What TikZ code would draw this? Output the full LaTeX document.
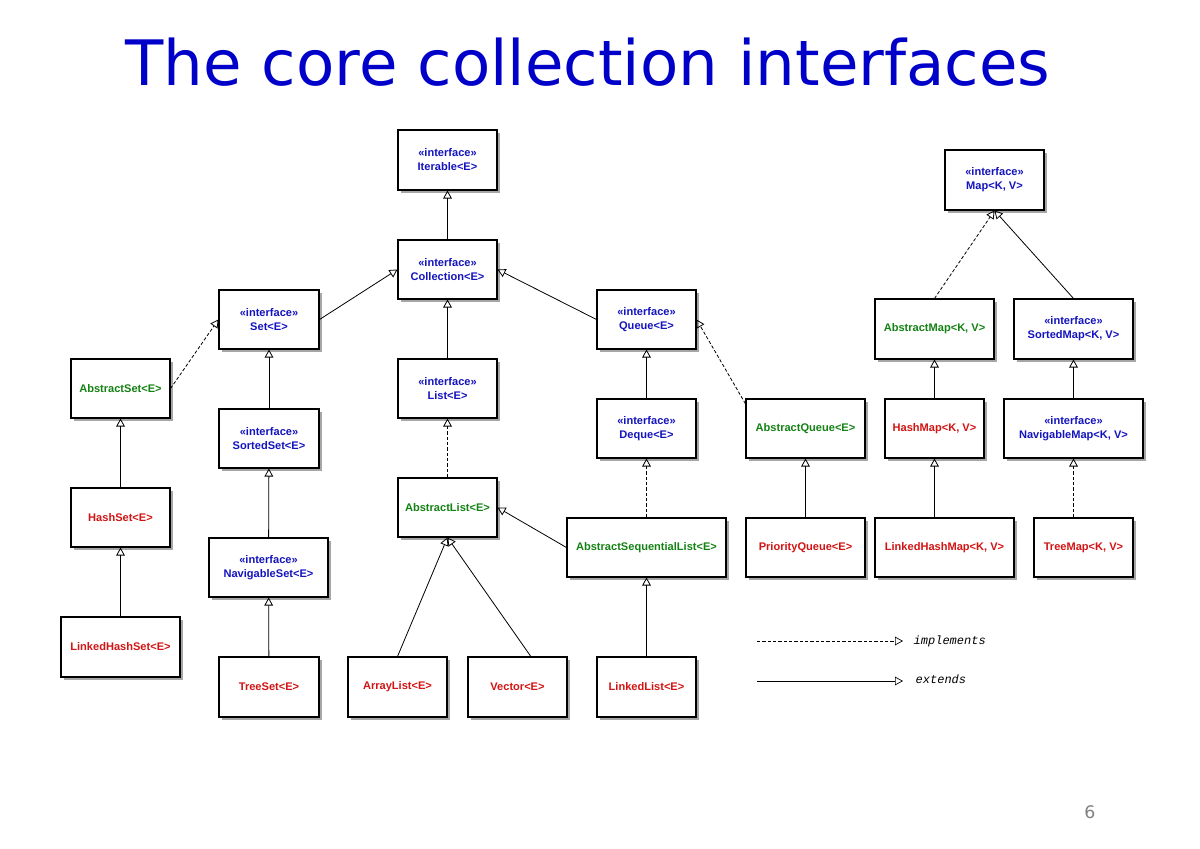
\documentclass[tikz,border=0pt]{standalone}
\usepackage{fontspec}
\setmainfont{Liberation Sans}
\newfontfamily\titlefont{DejaVu Sans}
\newfontfamily\legfont{Liberation Mono}
\usetikzlibrary{arrows.meta}
\definecolor{ib}{RGB}{20,20,190}
\definecolor{tb}{RGB}{0,0,200}
\definecolor{cg}{RGB}{20,130,20}
\definecolor{cr}{RGB}{210,20,20}
\tikzset{
  box/.style={draw,thick,fill=white,align=center,inner sep=1pt,font=\bfseries\fontsize{8.3}{10.5}\selectfont},
  ext/.style={-{Triangle[open,width=6.5pt,length=6pt]},line width=0.6pt},
  impl/.style={ext,dash pattern=on 2.5pt off 1.5pt},
}
\newcommand\bx[7]{\fill[gray!70] (#2+3,#3+3) rectangle (#4+3,#5+3);
\node[box,text=#6,minimum width={(#4-#2)*0.75pt},minimum height={(#5-#3)*0.75pt}] (#1) at ({(#2+#4)/2},{(#3+#5)/2}) {#7};}
\newcommand\intf[1]{«interface»\\#1}
\begin{document}
\begin{tikzpicture}[x=0.75pt,y=-0.75pt]
\useasboundingbox (0,0) rectangle (1200,849);
\node[text=tb,font=\titlefont\fontsize{47}{52}\selectfont] (title) at (588,62) {The core collection interfaces};
\bx{Iter}{398}{130}{497}{190}{ib}{\intf{Iterable<E>}}
\bx{Coll}{398}{240}{497}{299}{ib}{\intf{Collection<E>}}
\bx{Set}{219}{290}{319}{349}{ib}{\intf{Set<E>}}
\bx{Queue}{597}{290}{696}{349}{ib}{\intf{Queue<E>}}
\bx{ASet}{71}{359}{170}{418}{cg}{AbstractSet<E>}
\bx{List}{398}{359}{497}{418}{ib}{\intf{List<E>}}
\bx{SSet}{219}{409}{319}{468}{ib}{\intf{SortedSet<E>}}
\bx{Deque}{597}{399}{696}{458}{ib}{\intf{Deque<E>}}
\bx{AQueue}{746}{399}{865}{458}{cg}{AbstractQueue<E>}
\bx{HSet}{71}{488}{170}{547}{cr}{HashSet<E>}
\bx{AList}{398}{478}{497}{537}{cg}{AbstractList<E>}
\bx{NSet}{209}{538}{328}{597}{ib}{\intf{NavigableSet<E>}}
\bx{ASL}{567}{518}{726}{577}{cg}{AbstractSequentialList<E>}
\bx{LHSet}{61}{617}{180}{677}{cr}{LinkedHashSet<E>}
\bx{TSet}{219}{657}{319}{717}{cr}{TreeSet<E>}
\bx{AL}{348}{657}{447}{717}{cr}{ArrayList<E>}
\bx{Vec}{468}{657}{567}{717}{cr}{Vector<E>}
\bx{LL}{597}{657}{696}{717}{cr}{LinkedList<E>}
\bx{PQ}{746}{518}{865}{577}{cr}{PriorityQueue<E>}
\bx{Map}{945}{150}{1044}{210}{ib}{\intf{Map<K, V>}}
\bx{AMap}{875}{299}{994}{359}{cg}{AbstractMap<K, V>}
\bx{SMap}{1014}{299}{1133}{359}{ib}{\intf{SortedMap<K, V>}}
\bx{HMap}{885}{399}{984}{458}{cr}{HashMap<K, V>}
\bx{NMap}{1004}{399}{1143}{458}{ib}{\intf{NavigableMap<K, V>}}
\bx{LHMap}{875}{518}{1014}{577}{cr}{LinkedHashMap<K, V>}
\bx{TMap}{1034}{518}{1133}{577}{cr}{TreeMap<K, V>}
\draw[ext] (Coll) -- (Iter);
\draw[ext] (Set.east) -- (Coll.west);
\draw[ext] (Queue.west) -- (Coll.east);
\draw[ext] (List) -- (Coll);
\draw[impl] (ASet.east) -- (Set.west);
\draw[ext] (SSet) -- (Set);
\draw[ext] (NSet) -- (SSet);
\draw[ext] (TSet) -- (NSet);
\draw[ext] (HSet) -- (ASet);
\draw[ext] (LHSet) -- (HSet);
\draw[impl] (AList) -- (List);
\draw[ext] (AL.north) -- (AList.south);
\draw[ext] ([xshift=10]Vec.north) -- (AList.south);
\draw[ext] (ASL.west) -- (AList.east);
\draw[ext] (LL) -- (ASL);
\draw[impl] (ASL) -- (Deque);
\draw[ext] (Deque) -- (Queue);
\draw[impl] ([yshift=-4]AQueue.north west) -- (Queue.east);
\draw[ext] (PQ) -- (AQueue);
\draw[impl] (AMap.north) -- (Map.south);
\draw[ext] (SMap.north) -- (Map.south);
\draw[ext] (HMap) -- (AMap);
\draw[ext] (HMap.south |- LHMap.north) -- (HMap.south);
\draw[ext] (NMap) -- (SMap);
\draw[impl] (SMap.south |- TMap.north) -- (SMap.south |- NMap.south);
\coordinate (ia) at (757,641); \coordinate (ib) at (903,641);
\coordinate (ea) at (757,681); \coordinate (eb) at (903,681);
\draw[impl,line width=0.5pt] (ia) -- (ib);
\draw[ext,line width=0.5pt] (ea) -- (eb);
\node[anchor=west,font=\legfont\itshape\fontsize{9}{10}\selectfont] (limpl) at (909,641) {implements};
\node[anchor=west,font=\legfont\itshape\fontsize{9}{10}\selectfont] (lext) at (911,679) {extends};
\node[text=gray,font=\titlefont\fontsize{13}{14}\selectfont] (pg) at (1090,812) {6};
\end{tikzpicture}
\end{document}
